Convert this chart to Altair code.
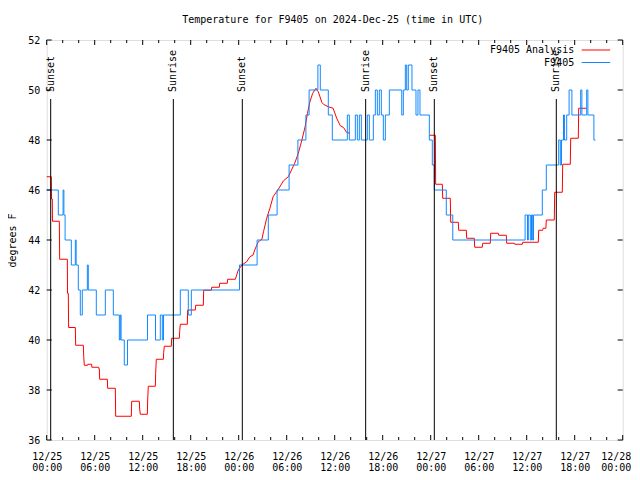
import json
import altair as alt
import pandas as pd

MONO = "DejaVu Sans Mono"
BLUE = "#1388ff"
RED = "#ff0000"
W, H = 576, 400

# ---- data (hours since 2024-12-25 00:00 UTC, deg F) ----
red_hours_a = [0.0, 0.58, 0.6, 0.7, 0.72, 1.58, 1.62, 2.58, 2.6, 2.7, 2.74, 3.58, 3.62, 4.58, 4.62, 4.7,
               5.12, 5.14, 5.62, 5.64, 6.5, 6.52, 6.58, 6.62, 7.58, 7.62, 8.58, 8.62, 10.58, 10.62, 11.58,
               11.62, 11.7, 12.58, 12.62, 12.7, 13.58, 13.62, 13.7, 14.58, 14.62, 14.7, 15.58, 15.62, 16.58,
               16.62, 16.7, 17.58, 17.62, 18.58, 18.62, 19.58, 19.62, 20.58, 20.62, 21.58, 21.62, 22.58,
               22.62, 23.58, 23.95, 24.4, 25.0, 25.4, 25.8, 26.0, 26.45, 26.9, 27.1, 27.5, 27.9, 28.3,
               28.95, 29.6, 30.2, 30.6, 31.0, 31.45, 31.9, 32.3, 32.6, 32.9, 33.25, 33.65, 33.95, 34.4,
               34.6, 35.2, 35.8, 36.25, 36.7, 37.1, 37.5, 37.9]
red_temps_a = [46.53, 46.53, 45.64, 45.64, 44.75, 44.75, 43.23, 43.23, 41.87, 41.87, 40.5, 40.5, 39.79, 39.79,
               39.39, 38.99, 38.99, 39.03, 39.03, 38.91, 38.91, 38.85, 38.85, 38.43, 38.43, 38.07, 38.07,
               36.95, 36.95, 37.55, 37.55, 37.24, 37.03, 37.03, 37.6, 38.15, 38.15, 38.67, 39.23, 39.23,
               39.49, 39.75, 39.75, 40.07, 40.07, 40.33, 40.63, 40.63, 41.2, 41.2, 41.39, 41.39, 41.99,
               41.99, 42.11, 42.11, 42.27, 42.27, 42.43, 42.43, 42.8, 43.0, 43.13, 43.33, 43.4, 43.6,
               43.93, 44.03, 44.33, 44.87, 45.27, 45.73, 46.03, 46.37, 46.53, 46.8, 47.07, 47.47, 48.0,
               48.53, 49.07, 49.53, 49.87, 50.07, 49.93, 49.5, 49.43, 49.33, 49.27, 48.87, 48.57, 48.5,
               48.3, 48.27]
red_hours_b = [47.83, 48.58, 48.62, 49.45, 49.5, 50.45, 50.5, 51.45, 51.5, 52.45, 52.5, 53.45, 53.5, 54.45,
               54.5, 55.45, 55.5, 56.45, 56.5, 57.45, 57.5, 58.45, 58.5, 59.45, 59.5, 61.45, 61.5, 62.0,
               62.05, 62.4, 62.45, 63.45, 63.5, 64.45, 64.5, 65.45, 65.5, 66.45, 66.5, 67.5]
red_temps_b = [48.19, 48.19, 46.23, 46.23, 45.67, 45.67, 44.71, 44.71, 44.39, 44.39, 44.07, 44.07, 43.71,
               43.71, 43.87, 43.87, 44.27, 44.27, 44.19, 44.19, 43.87, 43.87, 43.83, 43.83, 43.91, 43.91,
               44.39, 44.39, 44.47, 44.47, 44.8, 44.8, 45.91, 45.91, 47.03, 47.03, 48.07, 48.07, 49.27, 49.27]

blue_hours = [0.0, 1.45, 2.05, 2.15, 2.3, 3.08, 3.58, 3.68, 3.95, 4.2, 4.45, 5.08, 5.2, 6.2, 7.33, 8.33,
              9.08, 9.2, 9.3, 9.7, 10.1, 12.6, 13.6, 14.2, 14.45, 14.6, 16.7, 17.7, 18.08, 24.1, 26.3,
              27.7, 28.8, 30.3, 31.4, 32.4, 32.8, 33.9, 34.2, 35.2, 35.7, 37.58, 37.83, 38.58, 38.83,
              39.08, 39.33, 40.08, 40.33, 40.83, 41.08, 41.33, 41.58, 41.83, 42.08, 42.33, 42.83, 44.38,
              44.58, 44.83, 45.0, 45.2, 45.66, 46.16, 46.41, 46.66, 47.83, 48.2, 48.45, 49.95, 50.76,
              59.8, 60.1, 60.2, 60.45, 60.6, 60.75, 60.85, 61.95, 62.45, 64.0, 64.2, 64.35, 64.6, 64.72,
              65.0, 65.3, 65.65, 66.75, 66.9, 67.5, 67.65, 68.4, 68.6]
blue_temps = [46, 45, 46, 45, 44, 43, 44, 43, 42, 41, 42, 43, 42, 41, 42, 41,
              40, 41, 40, 39, 40, 41, 40, 41, 40, 41, 42, 41, 42, 43, 44,
              45, 46, 47, 48, 49, 50, 51, 50, 49, 48, 49, 48, 49, 48,
              49, 48, 49, 48, 49, 50, 49, 50, 49, 48, 49, 50, 49,
              50, 51, 50, 51, 50, 49, 50, 49, 48, 47, 46, 45, 44,
              45, 44, 45, 44, 45, 44, 45, 46, 47, 48, 47, 48, 49, 48,
              49, 50, 49, 50, 49, 50, 49, 48, 48]

event_hours = [0.5, 15.83, 24.45, 39.87, 48.45, 63.7]
event_labels = ["Sunset", "Sunrise", "Sunset", "Sunrise", "Sunset", "Sunrise"]

x_tick_hours = list(range(0, 73, 6))
x_minor_hours = [h for h in range(0, 73, 2) if h % 6]
x_tick_dates = ["12/25", "12/25", "12/25", "12/25", "12/26", "12/26", "12/26", "12/26",
                "12/27", "12/27", "12/27", "12/27", "12/28"]
x_tick_times = ["00:00", "06:00", "12:00", "18:00", "00:00", "06:00", "12:00", "18:00",
                "00:00", "06:00", "12:00", "18:00", "00:00"]
y_tick_values = [36, 38, 40, 42, 44, 46, 48, 50, 52]

series_names = ["F9405 Analysis", "F9405"]

# ---- frames ----
red_df = pd.DataFrame({
    "h": red_hours_a + red_hours_b,
    "v": red_temps_a + red_temps_b,
    "seg": ["a"] * len(red_hours_a) + ["b"] * len(red_hours_b),
})
blue_df = pd.DataFrame({"h": blue_hours, "v": blue_temps})
ev_df = pd.DataFrame({"h": event_hours, "label": event_labels})
xmaj_df = pd.DataFrame({"h": x_tick_hours})
xmin_df = pd.DataFrame({"h": x_minor_hours})
ytk_df = pd.DataFrame({"v": y_tick_values})

xs = alt.Scale(domain=[0, 72], nice=False, zero=False)
ys = alt.Scale(domain=[36, 52], nice=False, zero=False)

label_expr = "[{d}[round(datum.value/6)], {t}[round(datum.value/6)]]".format(
    d=json.dumps(x_tick_dates), t=json.dumps(x_tick_times))

x_axis = alt.Axis(values=x_tick_hours, labelExpr=label_expr, title=None, ticks=False, domain=False,
                  grid=False, labelFont=MONO, labelFontSize=10, labelColor="black", labelPadding=11,
                  labelFlush=False, labelOverlap=False, labelBaseline="top", labelLineHeight=11,
                  labelBound=False,
                  labelOffset={"condition": {"test": "datum.value >= 72", "value": -7}, "value": 0})
y_axis = alt.Axis(values=y_tick_values, title="degrees F", ticks=False, domain=False, grid=False,
                  labelFont=MONO, labelFontSize=10, labelColor="black", labelPadding=7,
                  labelFlush=False, labelOverlap=False,
                  titleFont=MONO, titleFontSize=10, titleFontWeight="normal", titleColor="black",
                  titleAngle=270, titleX=-34, titleY=200, titleAlign="center", titleBaseline="middle")

XE = alt.X("h:Q", scale=xs, axis=x_axis)
YE = alt.Y("v:Q", scale=ys, axis=y_axis)

red = alt.Chart(red_df).mark_line(color=RED, strokeWidth=1).encode(x=XE, y=YE, detail="seg:N")
blue = alt.Chart(blue_df).mark_line(color=BLUE, strokeWidth=1, interpolate="step-after").encode(x=XE, y=YE)

ev_rules = alt.Chart(ev_df).mark_rule(color="black", strokeWidth=1).encode(
    x=XE, y=alt.value(59), y2=alt.value(H))
ev_text = alt.Chart(ev_df).mark_text(angle=270, align="left", baseline="middle", font=MONO,
                                     fontSize=10, color="black").encode(
    x=XE, y=alt.value(52), text="label:N")


def xticks(df, size):
    bot = alt.Chart(df).mark_rule(color="black", strokeWidth=1).encode(
        x=XE, y=alt.value(H), y2=alt.value(H - size))
    top = alt.Chart(df).mark_rule(color="black", strokeWidth=1).encode(
        x=XE, y=alt.value(0), y2=alt.value(size))
    return [bot, top]


yt_left = alt.Chart(ytk_df).mark_rule(color="black", strokeWidth=1).encode(
    y=YE, x=alt.value(0), x2=alt.value(5))
yt_right = alt.Chart(ytk_df).mark_rule(color="black", strokeWidth=1).encode(
    y=YE, x=alt.value(W), x2=alt.value(W - 5))

leg_df = pd.DataFrame({"name": series_names})
leg_layers = []
for i, (name, col) in enumerate(zip(series_names, [RED, BLUE])):
    ry = 10 + 12.5 * i
    d = leg_df[leg_df["name"] == name]
    leg_layers.append(alt.Chart(d).mark_text(align="right", baseline="middle", font=MONO, fontSize=10,
                                             color="black").encode(
        x=alt.value(527.5), y=alt.value(ry), text="name:N"))
    leg_layers.append(alt.Chart(d).mark_rule(color=col, strokeWidth=1).encode(
        x=alt.value(535), x2=alt.value(563.5), y=alt.value(ry)))

chart = alt.layer(
    red, blue, ev_rules, ev_text, *xticks(xmaj_df, 5), *xticks(xmin_df, 3), yt_left, yt_right, *leg_layers
).properties(
    width=W, height=H,
    title=alt.TitleParams(text="Temperature for F9405 on 2024-Dec-25 (time in UTC)", font=MONO,
                          fontSize=10, fontWeight="normal", color="black", anchor="middle",
                          baseline="alphabetic", offset=16, dx=-2, dy=14),
    padding={"left": 38.7, "top": 32, "right": 9.3, "bottom": 31},
    autosize=alt.AutoSizeParams(type="none"),
).configure_view(stroke="black", strokeWidth=1).configure(background="white")

chart.save("out.html", embed_options={"renderer": "svg", "actions": False})
